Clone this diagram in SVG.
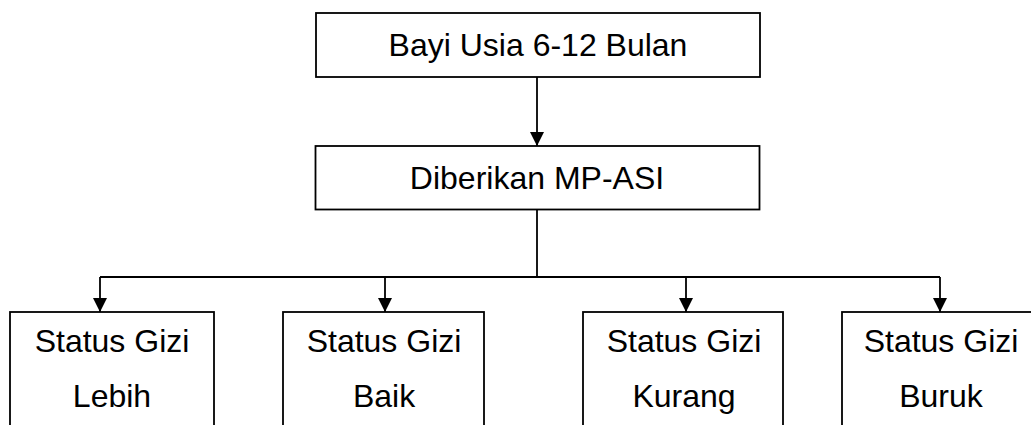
<svg xmlns="http://www.w3.org/2000/svg" width="1031" height="425" viewBox="0 0 1031 425">
<style>
.box{fill:#fff;stroke:#000;stroke-width:1.8}
.t{font-family:"Liberation Sans",Arial,sans-serif;font-size:32px;fill:#000;text-anchor:middle}
.c{fill:none;stroke:#000;stroke-width:1.8}
</style>
<defs>
<marker id="ah" viewBox="0 0 14 14" refX="14" refY="7" markerWidth="14" markerHeight="14" markerUnits="userSpaceOnUse" orient="auto">
<path d="M0,0 L14,7 L0,14 z" fill="#000"/>
</marker>
</defs>
<rect width="1031" height="425" fill="#fff"/>
<g id="n1"><rect class="box" x="316" y="13" width="444" height="64"/><text class="t" x="538" y="56">Bayi Usia 6-12 Bulan</text></g>
<g id="n2"><rect class="box" x="315.5" y="146" width="444" height="63.5"/><text class="t" x="537" y="189">Diberikan MP-ASI</text></g>
<g id="n3"><rect class="box" x="10" y="312" width="204" height="130"/><text class="t" x="112" y="352">Status Gizi</text><text class="t" x="112" y="407">Lebih</text></g>
<g id="n4"><rect class="box" x="283" y="312" width="201" height="130"/><text class="t" x="384" y="352">Status Gizi</text><text class="t" x="384" y="407">Baik</text></g>
<g id="n5"><rect class="box" x="583" y="312" width="200" height="130"/><text class="t" x="684" y="352">Status Gizi</text><text class="t" x="684" y="407">Kurang</text></g>
<g id="n6"><rect class="box" x="842" y="312" width="200" height="130"/><text class="t" x="941" y="352">Status Gizi</text><text class="t" x="941" y="407">Buruk</text></g>
<g id="connectors">
<path class="c" d="M537,77 V146" marker-end="url(#ah)"/>
<path class="c" d="M537,209.5 V277"/>
<path class="c" d="M100,277 H940"/>
<path class="c" d="M100,277 V312" marker-end="url(#ah)"/>
<path class="c" d="M385,277 V312" marker-end="url(#ah)"/>
<path class="c" d="M686,277 V312" marker-end="url(#ah)"/>
<path class="c" d="M940,277 V312" marker-end="url(#ah)"/>
</g>
</svg>
